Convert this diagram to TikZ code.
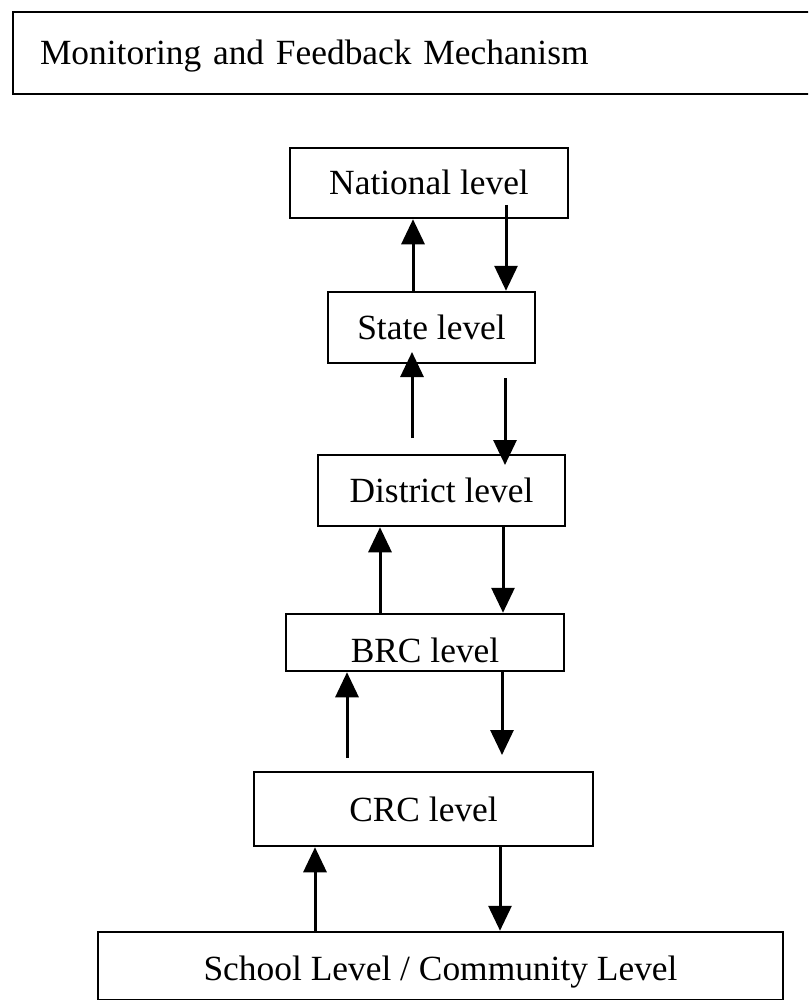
\documentclass[tikz,border=0pt]{standalone}
\usepackage{fontspec}
\setmainfont{Liberation Serif}
\usetikzlibrary{arrows.meta}
\begin{document}
\begin{tikzpicture}[x=0.5pt,y=-0.5pt,
  txt/.style={font=\fontsize{17.7pt}{21pt}\selectfont},
  lvl/.style={draw,line width=1.25pt,inner sep=0pt,text height=12pt,text depth=0pt,txt},
  arr/.style={line width=1.5pt,-{Triangle[length=12.5pt,width=11.5pt]}}]
\useasboundingbox (0,0) rectangle (808,1000);
\clip (0,0) rectangle (808,1000);
% title
\node[draw,line width=1pt,anchor=west,minimum height=41pt,inner xsep=13.5pt,inner ysep=0pt,
  text width=382pt,align=left,text height=12pt,text depth=0pt,txt] (title) at (12,53)
  {Monitoring and Feedback Mechanism};
% levels
\node[lvl,minimum width=139pt,minimum height=35pt] (national) at (429,183) {National level};
\node[lvl,minimum width=103.5pt,minimum height=35.5pt] (state) at (431.5,327.5) {State level};
\node[lvl,minimum width=123.5pt,minimum height=35.5pt] (district) at (441.5,490.5) {District level};
\node[lvl,minimum width=139pt,minimum height=28.5pt,text height=19.5pt] (brc) at (425,642.5) {BRC level};
\node[lvl,minimum width=169.5pt,minimum height=37pt] (crc) at (423.5,809) {CRC level};
\node[lvl,minimum width=342.5pt,minimum height=34pt,text height=14pt] (school) at (440.5,966) {School Level / Community Level};
% arrow lanes and free ends
\coordinate (x1u) at (413,0);
\coordinate (x1d) at (506,0);
\coordinate (d1s) at (506,205);
\coordinate (u2s) at (412,438);
\coordinate (u2e) at (412,352);
\coordinate (d2s) at (505,378);
\coordinate (d2e) at (505,465);
\coordinate (x3u) at (380,0);
\coordinate (x3d) at (503,0);
\coordinate (u4s) at (347,758);
\coordinate (x4u) at (347,0);
\coordinate (x4d) at (502,0);
\coordinate (d4e) at (502,755);
\coordinate (x5u) at (315,0);
\coordinate (x5d) at (500,0);
% arrows
\draw[arr] (x1u |- state.north) -- (x1u |- national.south);
\draw[arr] (d1s) -- (x1d |- state.north);
\draw[arr] (u2s) -- (u2e);
\draw[arr] (d2s) -- (d2e);
\draw[arr] (x3u |- brc.north) -- (x3u |- district.south);
\draw[arr] (x3d |- district.south) -- (x3d |- brc.north);
\draw[arr] (u4s) -- (x4u |- brc.south);
\draw[arr] (x4d |- brc.south) -- (d4e);
\draw[arr] (x5u |- school.north) -- (x5u |- crc.south);
\draw[arr] (x5d |- crc.south) -- (x5d |- school.north);
\end{tikzpicture}
\end{document}
